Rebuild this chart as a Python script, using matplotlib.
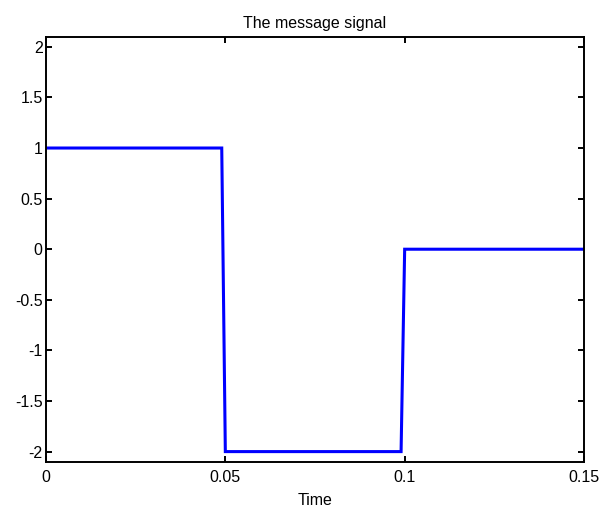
import matplotlib
matplotlib.use('Agg')
from matplotlib import pyplot as plt

# message signal: +1 then -2 then 0, sampled at 1 ms
t = [0.0, 0.049, 0.05, 0.099, 0.1, 0.15]
m = [1, 1, -2, -2, 0, 0]

xticks = [0, 0.05, 0.1, 0.15]
xticklabels = ['0', '0.05', '0.1', '0.15']
yticks = [-2, -1.5, -1, -0.5, 0, 0.5, 1, 1.5, 2]
yticklabels = ['-2', '-1.5', '-1', '-0.5', '0', '0.5', '1', '1.5', '2']

plt.rcParams['font.family'] = ['Liberation Sans', 'DejaVu Sans']
plt.rcParams['font.size'] = 11.5

fig = plt.figure(figsize=(6.06, 5.12), dpi=100)
ax = fig.add_axes([0.0759, 0.0982, 0.8878, 0.8301])

ax.plot(t, m, color='#0000ff', linewidth=2.2, solid_joinstyle='miter')
ax.set_xlim(0, 0.15)
ax.set_ylim(-2.1, 2.1)
ax.set_xticks(xticks)
ax.set_xticklabels(xticklabels)
ax.set_yticks(yticks)
ax.set_yticklabels(yticklabels)
ax.tick_params(direction='in', top=True, right=True, length=4, width=1.4,
               labelsize=11.5)
ax.tick_params(axis='x', pad=6)
ax.tick_params(axis='y', pad=2.5)
for s in ax.spines.values():
    s.set_linewidth(1.4)

ax.set_title('The message signal', fontsize=11.5, pad=6)
ax.set_xlabel('Time', fontsize=11.5, labelpad=6)

fig.savefig('out.png', dpi=100)
